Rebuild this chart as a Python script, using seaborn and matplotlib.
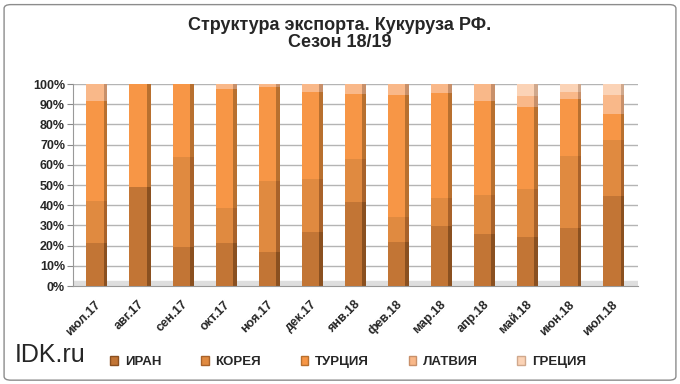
import numpy as np
import pandas as pd
import matplotlib
matplotlib.use("Agg")
import matplotlib.pyplot as plt
from matplotlib.patches import Patch, FancyBboxPatch
import seaborn as sns

# ── data (shares, %) ──────────────────────────────────────────────────────────
MONTHS = ["июл.17", "авг.17", "сен.17", "окт.17", "ноя.17", "дек.17", "янв.18",
          "фев.18", "мар.18", "апр.18", "май.18", "июн.18", "июл.18"]
IRAN   = [21.1, 49.3, 19.4, 21.1, 16.9, 26.9, 41.4, 21.9, 29.7, 25.7, 24.1, 28.6, 44.4]
KOREA  = [20.8,  0.0, 44.4, 17.4, 35.3, 26.3, 21.7, 12.5, 13.8, 19.5, 23.9, 35.7, 27.9]
TURKEY = [49.5, 50.7, 36.2, 59.0, 46.5, 43.1, 31.9, 60.3, 52.0, 46.2, 40.7, 28.2, 12.7]
LATVIA = [ 8.6,  0.0,  0.0,  2.5,  1.3,  3.7,  5.0,  5.3,  4.5,  8.6,  5.5,  3.8,  9.7]
GREECE = [ 0.0,  0.0,  0.0,  0.0,  0.0,  0.0,  0.0,  0.0,  0.0,  0.0,  5.8,  3.7,  5.3]

SERIES = ["ИРАН", "КОРЕЯ", "ТУРЦИЯ", "ЛАТВИЯ", "ГРЕЦИЯ"]
FRONT  = ["#C27535", "#E08A40", "#F79646", "#F9B889", "#FBD3B6"]
SIDE   = ["#8A5020", "#A8622A", "#B8702F", "#C8906A", "#D0A88C"]

df = pd.DataFrame({"month": MONTHS, "ИРАН": IRAN, "КОРЕЯ": KOREA,
                   "ТУРЦИЯ": TURKEY, "ЛАТВИЯ": LATVIA, "ГРЕЦИЯ": GREECE})
cum = df[SERIES].cumsum(axis=1)

# ── figure ────────────────────────────────────────────────────────────────────
sns.set_style("white")
plt.rcParams["font.family"] = ["Liberation Sans", "DejaVu Sans"]

fig = plt.figure(figsize=(6.8, 3.84), dpi=100, facecolor="white")
fig.patches.append(FancyBboxPatch((0.006, 0.01), 0.988, 0.978,
                                  boxstyle="round,pad=0,rounding_size=0.01",
                                  transform=fig.transFigure, fc="white",
                                  ec="#8c8c8c", lw=1.0, zorder=-5))
ax = fig.add_axes([0.108, 0.255, 0.830, 0.526])

# floor strip under the columns
ax.axhspan(0, 2.5, color="#dedede", zorder=1)

# stacked bars: draw cumulative tops from last series down to first
x = np.arange(len(MONTHS))
for i in range(len(SERIES) - 1, -1, -1):
    s = SERIES[i]
    sns.barplot(x=df["month"], y=cum[s], ax=ax, color=FRONT[i],
                width=0.4, saturation=1, linewidth=0, zorder=3)
    # darker right side of the "3D" column
    ax.bar(x + 0.245, cum[s], width=0.09, color=SIDE[i], linewidth=0, zorder=2)

ax.set_xlim(-0.5, len(MONTHS) - 0.4)
ax.set_ylim(0, 100)
ax.set_yticks(np.arange(0, 101, 10))
ax.set_yticklabels([f"{v}%" for v in range(0, 101, 10)],
                   fontsize=9, fontweight="bold")
ax.set_xticks(x)
ax.set_xticklabels(MONTHS, rotation=45, ha="right", rotation_mode="anchor",
                   fontsize=9, fontweight="bold")
ax.set_xticks(np.arange(len(MONTHS) + 1) - 0.5, minor=True)
ax.tick_params(axis="x", which="major", length=0, pad=9)
ax.tick_params(axis="x", which="minor", length=4, color="#888888")
ax.tick_params(axis="y", length=4, color="#888888", pad=2, left=True)
ax.set_xlabel("")
ax.set_ylabel("")
ax.grid(axis="y", color="#b4b4b4", lw=1.0, zorder=0)
for side in ["top", "right"]:
    ax.spines[side].set_visible(False)
for side in ["left", "bottom"]:
    ax.spines[side].set_color("#999999")

fig.text(0.5, 0.957, "Структура экспорта. Кукуруза РФ.\nСезон 18/19",
         ha="center", va="top", fontsize=13, fontweight="bold", linespacing=1.05)
fig.text(0.022, 0.075, "IDK.ru", fontsize=18, ha="left", va="center")

handles = [Patch(facecolor=FRONT[i], edgecolor=SIDE[i], label=s)
           for i, s in enumerate(SERIES)]
fig.legend(handles=handles, loc="center", bbox_to_anchor=(0.512, 0.057),
           ncol=5, frameon=False, handlelength=0.6, handleheight=0.6,
           columnspacing=3.0, handletextpad=0.5,
           prop={"size": 9.5, "weight": "bold"})

fig.savefig("out.png", dpi=100, facecolor="white")
